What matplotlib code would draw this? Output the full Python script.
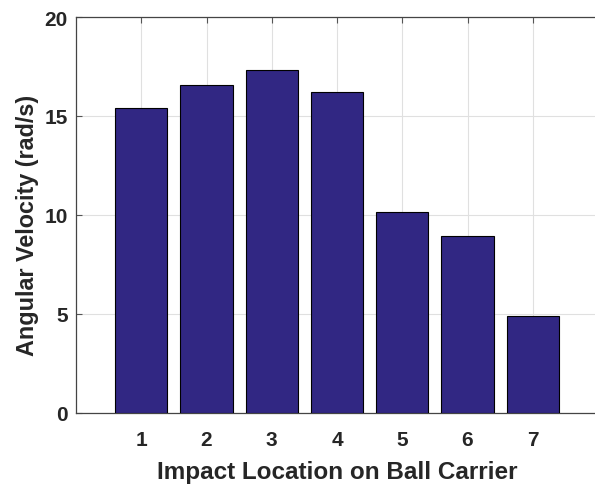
import matplotlib
matplotlib.use("Agg")
import matplotlib.pyplot as plt

# angular velocity per impact location
locations = [1, 2, 3, 4, 5, 6, 7]
ang_vel = [15.4, 16.55, 17.3, 16.2, 10.15, 8.95, 4.88]

plt.rcParams["font.family"] = ["Liberation Sans", "DejaVu Sans"]
plt.rcParams["font.weight"] = "bold"

fig = plt.figure(figsize=(5.95, 4.85), dpi=100)
# axes run slightly past the right edge, like the exported figure
ax = fig.add_axes([76 / 595, 1 - 414 / 485, 522 / 595, 396 / 485])

ax.bar(locations, ang_vel, width=0.8, color="#312783", edgecolor="black",
       linewidth=0.8, zorder=3)

ax.set_xlim(0, 8)
ax.set_ylim(0, 20)
ax.set_xticks(locations)
ax.set_yticks([0, 5, 10, 15, 20])
ax.grid(True, color="#e0e0e0", linewidth=0.8, zorder=0)
ax.tick_params(direction="in", length=4, color="#555555", labelsize=15,
               labelcolor="#262626", top=True)
ax.tick_params(axis="x", pad=12)
ax.tick_params(axis="y", pad=6)
for side in ["left", "bottom", "top"]:
    ax.spines[side].set_color("#444444")
    ax.spines[side].set_linewidth(0.9)
ax.spines["right"].set_visible(False)

ax.set_xlabel("Impact Location on Ball Carrier", fontsize=17.5, fontweight="bold",
              color="#262626")
ax.set_ylabel("Angular Velocity (rad/s)", fontsize=16.8, fontweight="bold",
              color="#262626")
ax.xaxis.set_label_coords(0.5, -0.118)
ax.yaxis.set_label_coords(-0.092, 0.477)
ax.yaxis.label.set_va("center")

fig.savefig("out.png", dpi=100)
